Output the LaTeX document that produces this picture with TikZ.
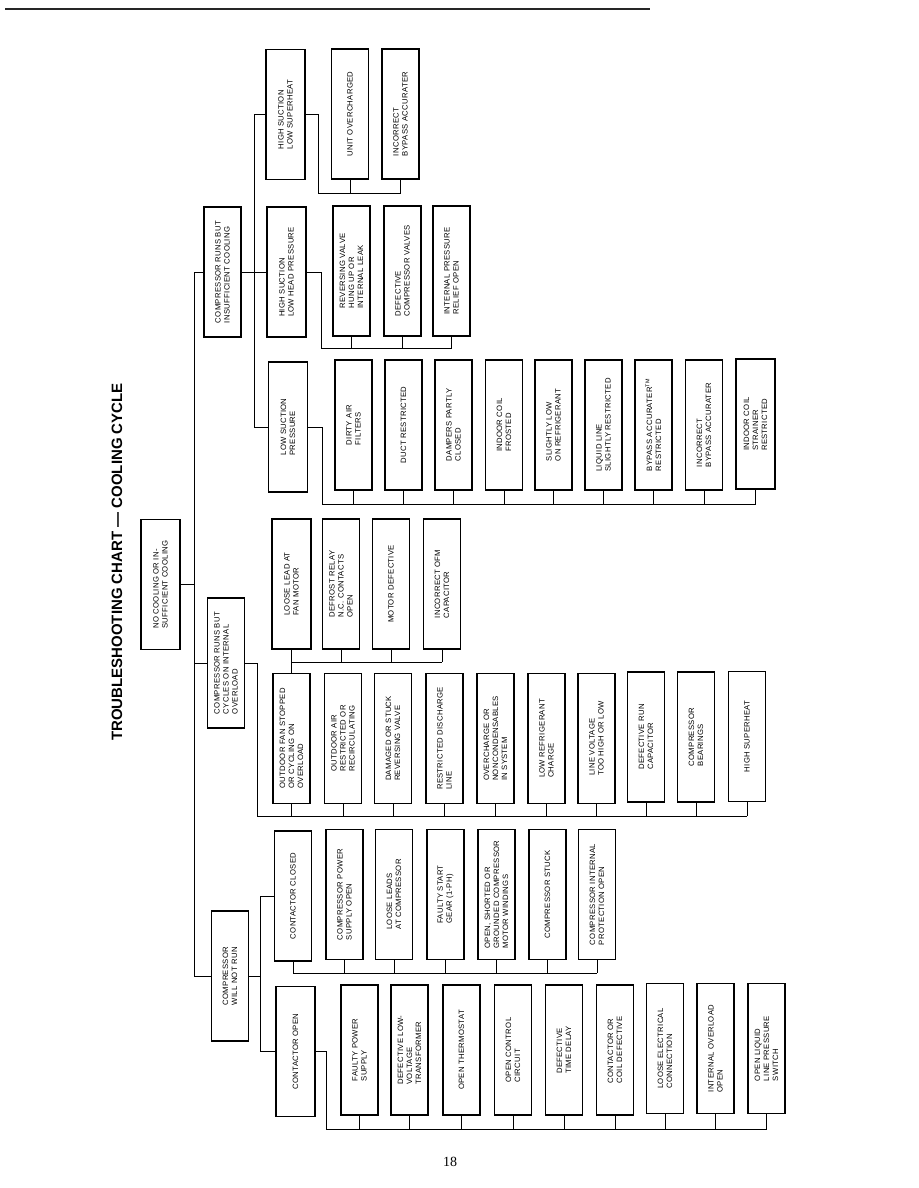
\documentclass[tikz,border=0pt]{standalone}
\usepackage{fontspec}
\setmainfont{Liberation Serif}
\setsansfont{Liberation Sans}
\newfontfamily\boxfont[LetterSpace=4]{Liberation Sans}
\usetikzlibrary{calc}
\tikzset{
 box/.style={draw, line width=1.5pt, rotate=90, align=left, inner sep=1pt,
   minimum width=130pt, minimum height=37pt,
   font=\boxfont\fontsize{7.7}{9}\selectfont},
 wire/.style={line width=0.8pt},
}
\begin{document}
\begin{tikzpicture}[x=1pt,y=-1pt]
\useasboundingbox (0,0) rectangle (918,1188);
% top rule
\coordinate (r1) at (5,9); \coordinate (r2) at (650,9);
\draw[line width=1.4pt, black!85] (r1) -- (r2);
% title
\node[rotate=90, font=\sffamily\bfseries\fontsize{15}{18}\selectfont] (title) at (117,562) {TROUBLESHOOTING CHART --- COOLING CYCLE};
% root and level 1
\node[box, minimum height=39pt] (root) at (160.5,584.5) {NO COOLING OR IN-\\SUFFICIENT COOLING};
\node[box] (L1a) at (222.5,272) {COMPRESSOR RUNS BUT\\INSUFFICIENT COOLING};
\node[box] (L1b) at (226,663) {COMPRESSOR RUNS BUT\\CYCLES ON INTERNAL\\OVERLOAD};
\node[box] (L1c) at (230,976) {COMPRESSOR\\WILL NOT RUN};
% insufficient cooling branch
\node[box, minimum height=39pt] (HSLS) at (285.5,114.5) {HIGH SUCTION\\LOW SUPERHEAT};
\node[box] (UO) at (350,114) {UNIT OVERCHARGED};
\node[box] (IBA1) at (400.5,114) {INCORRECT\\BYPASS ACCURATER};
\node[box, minimum height=39pt] (HSLHP) at (286.5,272) {HIGH SUCTION\\LOW HEAD PRESSURE};
\node[box] (RV) at (351.5,271) {REVERSING VALVE\\HUNG UP OR\\INTERNAL LEAK};
\node[box] (DCV) at (402.5,271) {DEFECTIVE\\COMPRESSOR VALVES};
\node[box] (IPR) at (451.5,271) {INTERNAL PRESSURE\\RELIEF OPEN};
\node[box, minimum height=39pt] (LSP) at (288,427) {LOW SUCTION\\PRESSURE};
\node[box] (DAF) at (353.5,425) {DIRTY AIR\\FILTERS};
\node[box] (DR) at (403.5,425) {DUCT RESTRICTED};
\node[box] (DPC) at (453.5,425) {DAMPERS PARTLY\\CLOSED};
\node[box] (ICF) at (504,425) {INDOOR COIL\\FROSTED};
\node[box] (SLR) at (553.5,425) {SLIGHTLY LOW\\ON REFRIGERANT};
\node[box] (LLR) at (603.5,425) {LIQUID LINE\\SLIGHTLY RESTRICTED};
\node[box] (BAR) at (653.5,425) {BYPASS ACCURATER\textsuperscript{TM}\\RESTRICTED};
\node[box] (IBA2) at (704,425) {INCORRECT\\BYPASS ACCURATER};
\node[box, minimum height=39pt] (ICS) at (755.5,424) {INDOOR COIL\\STRAINER\\RESTRICTED};
% cycles on internal overload branch
\node[box, minimum height=39pt] (LL) at (291.5,584) {LOOSE LEAD AT\\FAN MOTOR};
\node[box] (DRR) at (341,584) {DEFROST RELAY\\N.C. CONTACTS\\OPEN};
\node[box] (MD) at (391,584) {MOTOR DEFECTIVE};
\node[box] (IOC) at (442,584) {INCORRECT OFM\\CAPACITOR};
\node[box] (OF) at (291.5,738.5) {OUTDOOR FAN STOPPED\\OR CYCLING ON\\OVERLOAD};
\node[box] (OAR) at (343,738.5) {OUTDOOR AIR\\RESTRICTED OR\\RECIRCULATING};
\node[box] (DSRV) at (393,738.5) {DAMAGED OR STUCK\\REVERSING VALVE};
\node[box] (RDL) at (444.5,738.5) {RESTRICTED DISCHARGE\\LINE};
\node[box] (OCN) at (495.5,738.5) {OVERCHARGE OR\\NONCONDENSABLES\\IN SYSTEM};
\node[box] (LRC) at (546.5,738.5) {LOW REFRIGERANT\\CHARGE};
\node[box] (LV) at (596.5,738.5) {LINE VOLTAGE\\TOO HIGH OR LOW};
\node[box] (DRC) at (646,737) {DEFECTIVE RUN\\CAPACITOR};
\node[box] (CB) at (696,737) {COMPRESSOR\\BEARINGS};
\node[box] (HS) at (747,736.5) {HIGH SUPERHEAT};
% will not run branch
\node[box] (CC) at (293,896) {CONTACTOR CLOSED};
\node[box] (CPSO) at (344.5,894.5) {COMPRESSOR POWER\\SUPPLY OPEN};
\node[box] (LLC) at (394,894.5) {LOOSE LEADS\\AT COMPRESSOR};
\node[box] (FSG) at (445.5,894.5) {FAULTY START\\GEAR (1-PH)};
\node[box] (OSG) at (496.5,894.5) {OPEN, SHORTED OR\\GROUNDED COMPRESSOR\\MOTOR WINDINGS};
\node[box] (CS) at (547.5,894.5) {COMPRESSOR STUCK};
\node[box] (CIPO) at (597,894.5) {COMPRESSOR INTERNAL\\PROTECTION OPEN};
\node[box, minimum height=39pt] (CO) at (295.5,1051.5) {CONTACTOR OPEN};
\node[box] (FPS) at (359.5,1050) {FAULTY POWER\\SUPPLY};
\node[box] (DLVT) at (409.5,1050) {DEFECTIVE LOW-\\VOLTAGE\\TRANSFORMER};
\node[box] (OT) at (461.5,1050) {OPEN THERMOSTAT};
\node[box] (OCC) at (513,1050) {OPEN CONTROL\\CIRCUIT};
\node[box] (DTD) at (564,1050) {DEFECTIVE\\TIME DELAY};
\node[box] (CCD) at (615,1050) {CONTACTOR OR\\COIL DEFECTIVE};
\node[box] (LEC) at (665,1048.5) {LOOSE ELECTRICAL\\CONNECTION};
\node[box] (IOO) at (715.5,1048.5) {INTERNAL OVERLOAD\\OPEN};
\node[box] (OLLPS) at (766.5,1048.5) {OPEN LIQUID\\LINE PRESSURE\\SWITCH};
% page number
\node[font=\fontsize{14}{16}\selectfont] (pg) at (450,1162) {18};
% connectors
\coordinate (trunk) at (194,0);
\draw[wire] (root.south) -- (root.south -| trunk);
\draw[wire] (L1a.north) -- (L1a.north -| trunk) -- (L1c.north -| trunk) -- (L1c.north);
\draw[wire] (L1b.north) -- (L1b.north -| trunk);
\coordinate (sub1) at (254,0);
\draw[wire] (HSLS.north) -- (HSLS.north -| sub1) -- (LSP.north -| sub1) -- (LSP.north);
\draw[wire] (L1a.south) -- (HSLHP.north);
\coordinate (eA) at (318,193);
\draw[wire] (HSLS.south) -| (eA) -- (IBA1.west |- eA);
\foreach \c in {UO,IBA1} \draw[wire] (\c.west) -- (\c.west |- eA);
\coordinate (eB) at (321,348);
\draw[wire] (HSLHP.south) -| (eB) -- (IPR.west |- eB);
\foreach \c in {RV,DCV,IPR} \draw[wire] (\c.west) -- (\c.west |- eB);
\coordinate (eC) at (322,504);
\draw[wire] (LSP.south) -| (eC) -- (ICS.west |- eC);
\foreach \c in {DAF,DR,DPC,ICF,SLR,LLR,BAR,IBA2,ICS} \draw[wire] (\c.west) -- (\c.west |- eC);
\coordinate (eD) at (257,816);
\draw[wire] (L1b.south) -| (eD) -- (HS.west |- eD);
\foreach \c in {OF,OAR,DSRV,RDL,OCN,LRC,LV,DRC,CB,HS} \draw[wire] (\c.west) -- (\c.west |- eD);
\coordinate (eE) at (0,662);
\draw[wire] (LL.west) -- (OF.east);
\draw[wire] (LL.west |- eE) -- (IOC.west |- eE);
\foreach \c in {DRR,MD,IOC} \draw[wire] (\c.west) -- (\c.west |- eE);
\coordinate (sub3) at (260,0);
\draw[wire] (CC.north) -- (CC.north -| sub3) -- (CO.north -| sub3) -- (CO.north);
\draw[wire] (L1c.south) -- (L1c.south -| sub3);
\coordinate (eF) at (0,973);
\draw[wire] (CC.west) -- (CC.west |- eF) -- (CIPO.west |- eF);
\foreach \c in {CPSO,LLC,FSG,OSG,CS,CIPO} \draw[wire] (\c.west) -- (\c.west |- eF);
\coordinate (eG) at (326,1129);
\draw[wire] (CO.south) -| (eG) -- (OLLPS.west |- eG);
\foreach \c in {FPS,DLVT,OT,OCC,DTD,CCD,LEC,IOO,OLLPS} \draw[wire] (\c.west) -- (\c.west |- eG);
\end{tikzpicture}
\end{document}
